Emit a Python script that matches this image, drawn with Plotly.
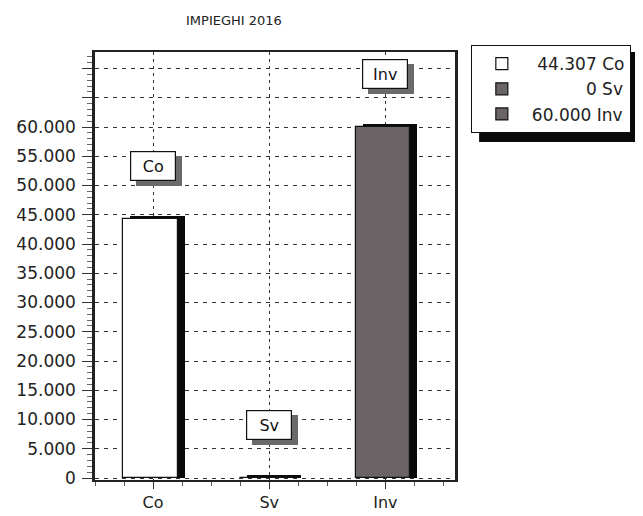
import plotly.graph_objects as go

categories = ["Co", "Sv", "Inv"]
values = [44307, 0, 60000]
legend_labels = ["\u00a044.307 Co", "\u00a0" * 10 + "0 Sv", "60.000 Inv"]
bar_colors = ["#ffffff", "#6b6467", "#6b6467"]
ytick_vals = list(range(0, 75000, 5000))
ytick_text = ["0", "5.000", "10.000", "15.000", "20.000", "25.000", "30.000",
              "35.000", "40.000", "45.000", "50.000", "55.000", "60.000", "", ""]

FONT = "DejaVu Sans, Liberation Sans, Arial, sans-serif"
xpos = list(range(len(categories)))
BW = 0.47
OFF = -0.255
DEPTH = 0.06
TOP_BEVEL = 500

fig = go.Figure()

# 3D side (shadow) bars
for i, v in enumerate(values):
    fig.add_trace(go.Bar(
        x=[xpos[i]], y=[v + TOP_BEVEL], width=BW, offset=OFF + DEPTH,
        marker=dict(color="#0a0a0a", line=dict(width=0)),
        showlegend=False, hoverinfo="skip"))

for i, v in enumerate(values):
    fig.add_trace(go.Bar(
        x=[xpos[i]], y=[v], width=BW, offset=OFF,
        name=legend_labels[i],
        marker=dict(color=bar_colors[i], line=dict(color="#111111", width=1.2))))

# value label boxes with shadow
for i, v in enumerate(values):
    fig.add_annotation(x=xpos[i], y=v, text=categories[i], showarrow=False,
                       yshift=48, xshift=6, width=38, height=22, borderpad=3,
                       font=dict(family=FONT, size=16, color="rgba(0,0,0,0)"),
                       bgcolor="#6a6a6a", bordercolor="#6a6a6a", borderwidth=1)
    fig.add_annotation(x=xpos[i], y=v, text=categories[i], showarrow=False,
                       yshift=53, width=38, height=22, borderpad=3,
                       font=dict(family=FONT, size=16, color="#111111"),
                       bgcolor="#ffffff", bordercolor="#111111", borderwidth=1.2)

# legend shadow
fig.add_shape(type="rect", xref="paper", yref="paper",
              x0=1.067, x1=1.511, y0=0.79, y1=1.0,
              fillcolor="#0a0a0a", line=dict(width=0), layer="below")

fig.update_layout(
    width=635, height=508,
    margin=dict(l=87, r=188, t=44, b=36),
    paper_bgcolor="white", plot_bgcolor="white",
    barmode="overlay",
    title=dict(text="IMPIEGHI 2016", x=0.386, xref="paper", xanchor="center",
               y=0.976, yref="container", yanchor="middle", automargin=False,
               font=dict(family=FONT, size=13, color="#222222")),
    font=dict(family=FONT, size=17, color="#222222"),
    xaxis=dict(range=[-0.5, 2.6], tickvals=xpos, ticktext=categories,
               automargin=False,
               showgrid=True, gridcolor="#333333", griddash="3px,4px", gridwidth=1.3,
               ticks="outside", ticklen=7, tickcolor="#333333", tickwidth=1.3,
               minor=dict(dtick=0.25, tick0=0, ticks="outside", ticklen=4,
                          tickcolor="#555555", showgrid=False),
               showline=True, linecolor="#222222", linewidth=1.5, mirror=True,
               zeroline=False, tickfont=dict(family=FONT, size=16, color="#222222")),
    yaxis=dict(range=[-340, 72820], tickvals=ytick_vals, ticktext=ytick_text,
               automargin=False,
               showgrid=True, gridcolor="#333333", griddash="4px,5px", gridwidth=1.3,
               ticks="outside", ticklen=10, tickcolor="#333333", tickwidth=1.3,
               ticklabelstandoff=3,
               minor=dict(dtick=1000, ticks="outside", ticklen=5, tickcolor="#666666",
                          showgrid=False),
               showline=True, linecolor="#222222", linewidth=2.5, mirror=True,
               zeroline=False, tickfont=dict(family=FONT, size=17, color="#222222")),
    legend=dict(x=1.044, y=1.016, xanchor="left", yanchor="top",
                bgcolor="white", bordercolor="#111111", borderwidth=1,
                font=dict(family=FONT, size=17, color="#222222"),
                itemwidth=50, tracegroupgap=0),
    bargap=0,
)

fig.write_html("out.html")
